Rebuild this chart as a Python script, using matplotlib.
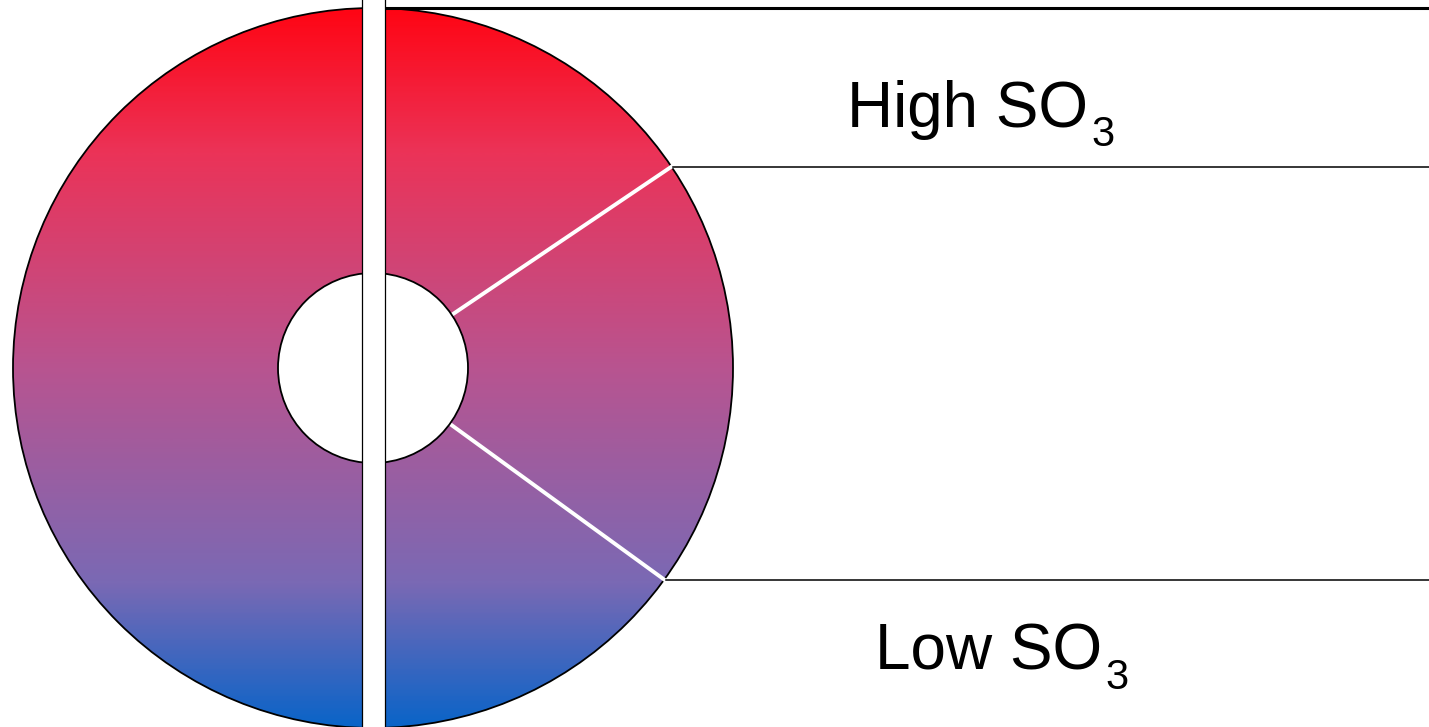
import numpy as np
import matplotlib.pyplot as plt
from matplotlib.patches import Circle, Rectangle
from matplotlib.colors import LinearSegmentedColormap

plt.rcParams['font.family'] = ['Liberation Sans', 'DejaVu Sans']

# gradient stops (top -> bottom)
stop_pos = [0.0, 0.2, 0.5, 0.8, 1.0]
stop_colors = ['#ff0514', '#eb3358', '#b85490', '#7a69b4', '#0a64c8']

# sector boundaries (degrees from horizontal, right side)
boundary_angles = [34, -36]
labels = ["High SO", "Low SO"]
subscripts = ["3", "3"]
label_x = [847, 875]
label_y = [127, 670]

cx, cy = 373, 368
r_out, r_in = 360, 95

fig = plt.figure(figsize=(14.29, 7.27), dpi=100)
ax = fig.add_axes([0, 0, 1, 1])
ax.set_xlim(0, 1429)
ax.set_ylim(727, 0)
ax.axis('off')

cmap = LinearSegmentedColormap.from_list('so3', list(zip(stop_pos, stop_colors)))
grad = np.linspace(0, 1, 400).reshape(-1, 1)
outer = Circle((cx, cy), r_out, facecolor='none', edgecolor='black', lw=1.3, zorder=3)
ax.add_patch(outer)
im = ax.imshow(grad, cmap=cmap, aspect='auto',
               extent=[cx - r_out, cx + r_out, cy + r_out, cy - r_out], zorder=1)
im.set_clip_path(outer)

# boundary lines to the right
for a in boundary_angles:
    t = np.deg2rad(a)
    x0, y0 = cx + r_in * np.cos(t), cy - r_in * np.sin(t)
    x1, y1 = cx + r_out * np.cos(t), cy - r_out * np.sin(t)
    ax.plot([x0, x1], [y0, y1], color='white', lw=2.8, zorder=4)
    ax.plot([x1 + 2, 1429], [y1, y1], color='black', lw=1.1, zorder=4)

ax.plot([cx, 1429], [cy - r_out, cy - r_out], color='black', lw=2.2, zorder=4)

ax.add_patch(Circle((cx, cy), r_in, facecolor='white', edgecolor='black', lw=1.3, zorder=5))
ax.add_patch(Rectangle((362, -5), 23, 740, facecolor='white', edgecolor='black', lw=0.9, zorder=6))

fig.canvas.draw()
renderer = fig.canvas.get_renderer()
inv = ax.transData.inverted()
for txt, sub, x, y in zip(labels, subscripts, label_x, label_y):
    t = ax.text(x, y, txt, fontsize=46, ha='left', va='baseline', color='black')
    bb = t.get_window_extent(renderer)
    xe = inv.transform((bb.x1, bb.y0))[0]
    ax.text(xe + 3, y + 19, sub, fontsize=30, ha='left', va='baseline', color='black')

fig.savefig('out.png', dpi=100)
